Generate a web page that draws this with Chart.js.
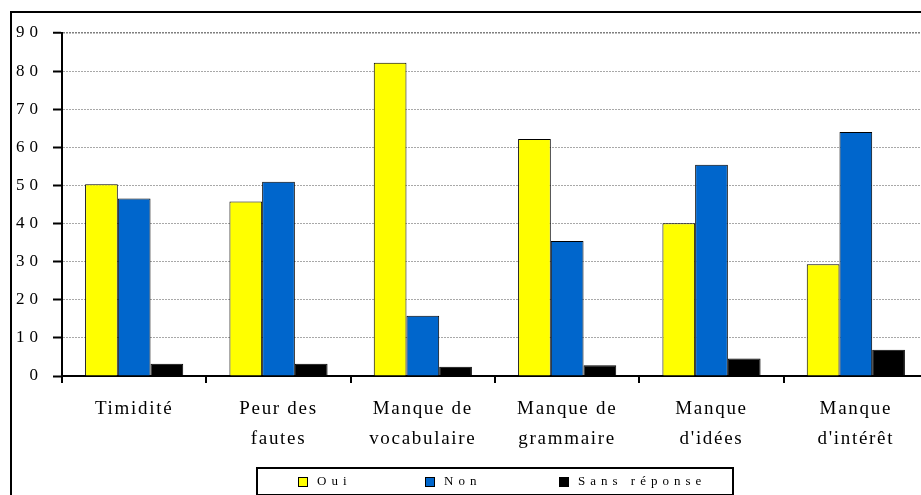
<!DOCTYPE html>
<html>
<head>
<meta charset="utf-8">
<script src="https://cdn.jsdelivr.net/npm/chart.js@4"></script>
<style>
  html, body { margin: 0; padding: 0; background: #fff; overflow: hidden; }
  #wrap { position: absolute; left: 0; top: 0; width: 940px; height: 495px; }
</style>
</head>
<body>
<div id="wrap"><canvas id="chart" width="940" height="495"></canvas></div>
<script>
// categories and values
const categories = [
    'Timidité',
    ['Peur des', 'fautes'],
    ['Manque de', 'vocabulaire'],
    ['Manque de', 'grammaire'],
    ['Manque', "d'idées"],
    ['Manque', "d'intérêt"]
];
const seriesNames = ['Oui', 'Non', 'Sans réponse'];
const oui = [50.3, 45.8, 82.2, 62.2, 40.1, 29.3];
const non = [46.6, 51.0, 15.8, 35.4, 55.4, 64.0];
const sansReponse = [3.2, 3.2, 2.4, 2.8, 4.6, 6.9];
const yTicks = [0, 10, 20, 30, 40, 50, 60, 70, 80, 90];

// the old Excel fonts look wide, so space the letters out a bit
const spacing = { 17: '5px', 19: '1.7px', 13: '5px' };
const spacedText = {
    id: 'spacedText',
    beforeInit(chart) {
        const ctx = chart.ctx;
        const fill = ctx.fillText;
        ctx.fillText = function (...args) {
            const m = this.font.match(/(\d+)px/);
            this.letterSpacing = (m && spacing[m[1]]) || '0px';
            fill.apply(this, args);
            this.letterSpacing = '0px';
        };
    }
};

// outer frame + boxed legend under the axis
const frameAndLegend = {
    id: 'frameAndLegend',
    afterDraw(chart) {
        const { ctx, chartArea } = chart;
        ctx.save();
        ctx.lineWidth = 2;
        ctx.strokeStyle = '#000';
        ctx.strokeRect(11, 12, 1200, 1200);

        const mid = (chartArea.left + chartArea.right) / 2;
        const left = mid - 238;
        const top = chartArea.bottom + 92;
        ctx.strokeRect(left, top, 476, 27);

        const offsets = [41, 168, 302];
        ctx.font = '13px "Liberation Serif"';
        ctx.textBaseline = 'middle';
        ctx.textAlign = 'left';
        chart.data.datasets.forEach((ds, i) => {
            const x = left + offsets[i];
            ctx.fillStyle = ds.backgroundColor;
            ctx.fillRect(x, top + 9, 10, 10);
            ctx.lineWidth = 1;
            ctx.strokeRect(x + 0.5, top + 9.5, 9, 9);
            ctx.fillStyle = '#000';
            ctx.fillText(ds.label, x + 19, top + 14);
        });
        ctx.restore();
    }
};

const ctx = document.getElementById('chart').getContext('2d');
new Chart(ctx, {
    type: 'bar',
    data: {
        labels: categories,
        datasets: [
            { label: seriesNames[0], data: oui, backgroundColor: '#FFFF00' },
            { label: seriesNames[1], data: non, backgroundColor: '#0066CC' },
            { label: seriesNames[2], data: sansReponse, backgroundColor: '#000000' }
        ]
    },
    options: {
        responsive: false,
        animation: false,
        devicePixelRatio: 1,
        layout: { padding: { top: 33, right: 12, bottom: 39, left: 0 } },
        datasets: {
            bar: {
                borderColor: '#000',
                borderWidth: 1,
                categoryPercentage: 0.68,
                barPercentage: 1
            }
        },
        plugins: {
            legend: { display: false },
            tooltip: { enabled: false }
        },
        scales: {
            x: {
                afterFit: (scale) => { scale.height = 80; },
                grid: {
                    drawOnChartArea: false,
                    color: '#000',
                    lineWidth: 2,
                    tickLength: 7
                },
                border: { color: '#000', width: 2 },
                ticks: {
                    color: '#000',
                    maxRotation: 0,
                    autoSkip: false,
                    padding: 11,
                    font: { family: '"Liberation Serif"', size: 19, lineHeight: 1.58 }
                }
            },
            y: {
                min: 0,
                max: 90,
                afterFit: (scale) => { scale.width = 62; },
                afterBuildTicks: (scale) => { scale.ticks = yTicks.map(v => ({ value: v })); },
                grid: {
                    color: (c) => c.tick && c.tick.value === 90 ? '#808080' : '#a8a8a8',
                    lineWidth: (c) => c.tick && c.tick.value === 90 ? 1.5 : 1,
                    tickColor: '#000',
                    tickWidth: 2,
                    tickLength: 9
                },
                border: { color: '#000', width: 2, dash: [2, 1] },
                ticks: {
                    color: '#000',
                    padding: 10,
                    font: { family: '"Liberation Serif"', size: 17 }
                }
            }
        }
    },
    plugins: [spacedText, frameAndLegend]
});
</script>
</body>
</html>
